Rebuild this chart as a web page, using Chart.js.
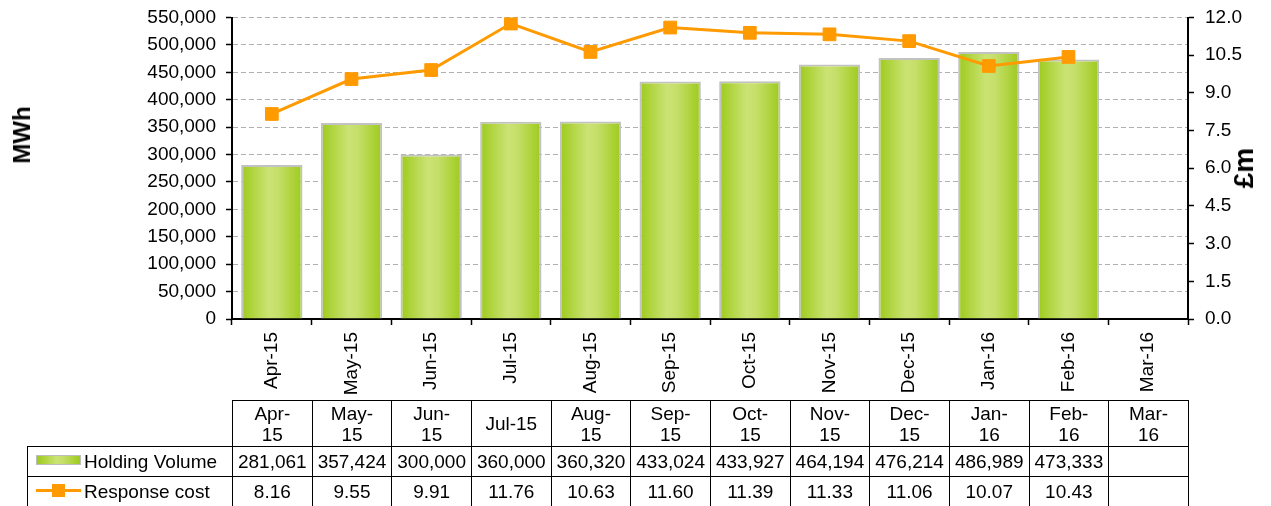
<!DOCTYPE html>
<html>
<head>
<meta charset="utf-8">
<script src="https://cdn.jsdelivr.net/npm/chart.js@4.4.1/dist/chart.umd.min.js"></script>
<style>
  body { margin: 0; background: #fff; }
  #wrap { position: relative; width: 1271px; height: 506px; overflow: hidden; font-family: 'Liberation Sans', Arial, sans-serif; color: #000; }
  #myChart { position: absolute; left: 0; top: 0; }
  .titre { position: absolute; font-weight: bold; white-space: nowrap; line-height: 1; transform: translate(-50%, -50%) rotate(-90deg); }
  #tableau { position: absolute; left: 27px; top: 400px; border-collapse: collapse; table-layout: fixed; font-size: 19px; }
  #tableau td { border: 1px solid #000; text-align: center; padding: 0; white-space: nowrap; overflow: hidden; }
  #tableau td.vide { border: none; }
  #tableau td.legende { text-align: left; padding-left: 8px; }
  #tableau tr.entete td { line-height: 21px; }
  .swatchBarre { display: inline-block; width: 43px; height: 8px; border: 1px solid #bdbdbd; vertical-align: middle; margin-right: 3px; position: relative; top: -2px;
    background: linear-gradient(to right, #9dca1c, #cbe374 45%, #c6df6a 60%, #9dca1c); }
  .swatchLigne { display: inline-block; width: 45px; height: 13px; vertical-align: middle; margin-right: 3px; position: relative; top: -2px; }
  .swatchLigne i { position: absolute; left: 0; right: 0; top: 5px; height: 3px; background: #ff9a00; }
  .swatchLigne b { position: absolute; left: 16px; top: 0; width: 13px; height: 13px; background: #ff9a00; }
</style>
</head>
<body>
<div id="wrap">
  <canvas id="myChart" width="1271" height="506"></canvas>
  <div class="titre" style="left:22px; top:135px; font-size:24px;">MWh</div>
  <div class="titre" style="left:1244px; top:168px; font-size:28px;">£m</div>
  <table id="tableau"></table>
</div>
<script>
//! Les données.

const categories = ['Apr-15', 'May-15', 'Jun-15', 'Jul-15', 'Aug-15', 'Sep-15', 'Oct-15', 'Nov-15', 'Dec-15', 'Jan-16', 'Feb-16', 'Mar-16'];
const holdingVolume = [281061, 357424, 300000, 360000, 360320, 433024, 433927, 464194, 476214, 486989, 473333, null];
const responseCost = [8.16, 9.55, 9.91, 11.76, 10.63, 11.60, 11.39, 11.33, 11.06, 10.07, 10.43, null];

const orange = '#ff9a00';
const police = "'Liberation Sans', Arial, sans-serif";
const largeurBarre = 0.77;

//! --------------------------------------------------------------

//! Dégradé des barres.

function remplissageBarre(ctx) {
  const chart = ctx.chart;
  const xs = chart.scales.x;
  if (!chart.chartArea || !xs) return '#b5d63d';
  const cx = xs.getPixelForValue(ctx.dataIndex);
  const demi = (xs.width / categories.length) * largeurBarre / 2;
  const g = chart.ctx.createLinearGradient(cx - demi, 0, cx + demi, 0);
  g.addColorStop(0, '#9dca1c');
  g.addColorStop(0.45, '#cbe374');
  g.addColorStop(0.6, '#c6df6a');
  g.addColorStop(1, '#9dca1c');
  return g;
}

// largeur fixe des axes, sans la marge ajoutée par Chart.js pour les étiquettes
function largeurAxe(w) {
  return (s) => {
    s.width = w;
    s.paddingTop = 0;
    s.paddingBottom = 0;
  };
}

//! --------------------------------------------------------------

//! Le graphique.

const data = {
  labels: categories,
  datasets: [
    {
      type: 'line',
      label: 'Response cost',
      data: responseCost,
      yAxisID: 'y1',
      borderColor: orange,
      backgroundColor: orange,
      borderWidth: 3,
      tension: 0,
      pointStyle: 'rect',
      pointRadius: 9,
      pointBorderWidth: 1,
      pointBorderColor: orange,
      pointBackgroundColor: orange,
      order: 0,
    },
    {
      type: 'bar',
      label: 'Holding Volume',
      data: holdingVolume,
      yAxisID: 'y',
      backgroundColor: remplissageBarre,
      borderColor: '#c2c2c2',
      borderWidth: 2,
      categoryPercentage: 1,
      barPercentage: largeurBarre,
      order: 1,
    },
  ],
};

const options = {
  responsive: false,
  animation: false,
  layout: { autoPadding: false, padding: { top: 17.5, left: 0, right: 0, bottom: 0 } },
  plugins: { legend: { display: false }, tooltip: { enabled: false } },
  scales: {
    x: {
      type: 'category',
      offset: true,
      z: 1,
      grid: { offset: true, drawOnChartArea: false, tickLength: 6, tickColor: '#000', tickWidth: 1.5 },
      border: { color: '#000', width: 2 },
      ticks: { autoSkip: false, minRotation: 90, maxRotation: 90, padding: 7, color: '#000', font: { family: police, size: 19 } },
      afterFit: (s) => { s.height = 506 - 319; },
    },
    y: {
      position: 'left',
      min: 0,
      max: 550000,
      grid: {
        color: (c) => (c.tick && c.tick.value === 0 ? 'rgba(0,0,0,0)' : '#b0b0b0'),
        lineWidth: 1,
        tickLength: 6,
        tickColor: '#000',
        tickWidth: 1.5,
      },
      border: { color: '#000', width: 2, dash: [5, 3] },
      ticks: {
        stepSize: 50000,
        padding: 10,
        color: '#000',
        font: { family: police, size: 19 },
        callback: (v) => v.toLocaleString('en-US'),
      },
      afterFit: largeurAxe(232),
    },
    y1: {
      position: 'right',
      min: 0,
      max: 12,
      grid: { drawOnChartArea: false, tickLength: 6, tickColor: '#000', tickWidth: 1.5 },
      border: { color: '#000', width: 2 },
      ticks: {
        stepSize: 1.5,
        padding: 11,
        color: '#000',
        font: { family: police, size: 19 },
        callback: (v) => v.toFixed(1),
      },
      afterFit: largeurAxe(1271 - 1188),
    },
  },
};

const myChart = new Chart(document.getElementById('myChart'), { type: 'bar', data, options });

//! --------------------------------------------------------------

//! Le tableau de données sous le graphique.

const xs = myChart.scales.x;
const largeurCol = xs.width / categories.length;
const mesure = document.createElement('canvas').getContext('2d');
mesure.font = '19px ' + police;

function entete(label) {
  // Excel coupe après le tiret quand le texte est trop large
  if (mesure.measureText(label).width > 54) {
    const i = label.indexOf('-') + 1;
    return label.slice(0, i) + '<br>' + label.slice(i);
  }
  return label;
}

const tableau = document.getElementById('tableau');
let html = '<colgroup><col style="width:' + (xs.left - 27) + 'px">';
categories.forEach(() => { html += '<col style="width:' + largeurCol + 'px">'; });
html += '</colgroup>';

html += '<tr class="entete" style="height:46px"><td class="vide"></td>';
categories.forEach((c) => { html += '<td>' + entete(c) + '</td>'; });
html += '</tr>';

html += '<tr style="height:30px"><td class="legende"><span class="swatchBarre"></span>Holding Volume</td>';
holdingVolume.forEach((v) => { html += '<td>' + (v == null ? '' : v.toLocaleString('en-US')) + '</td>'; });
html += '</tr>';

html += '<tr style="height:30px"><td class="legende"><span class="swatchLigne"><i></i><b></b></span>Response cost</td>';
responseCost.forEach((v) => { html += '<td>' + (v == null ? '' : v.toFixed(2)) + '</td>'; });
html += '</tr>';

tableau.innerHTML = html;

//! --------------------------------------------------------------
</script>
</body>
</html>
